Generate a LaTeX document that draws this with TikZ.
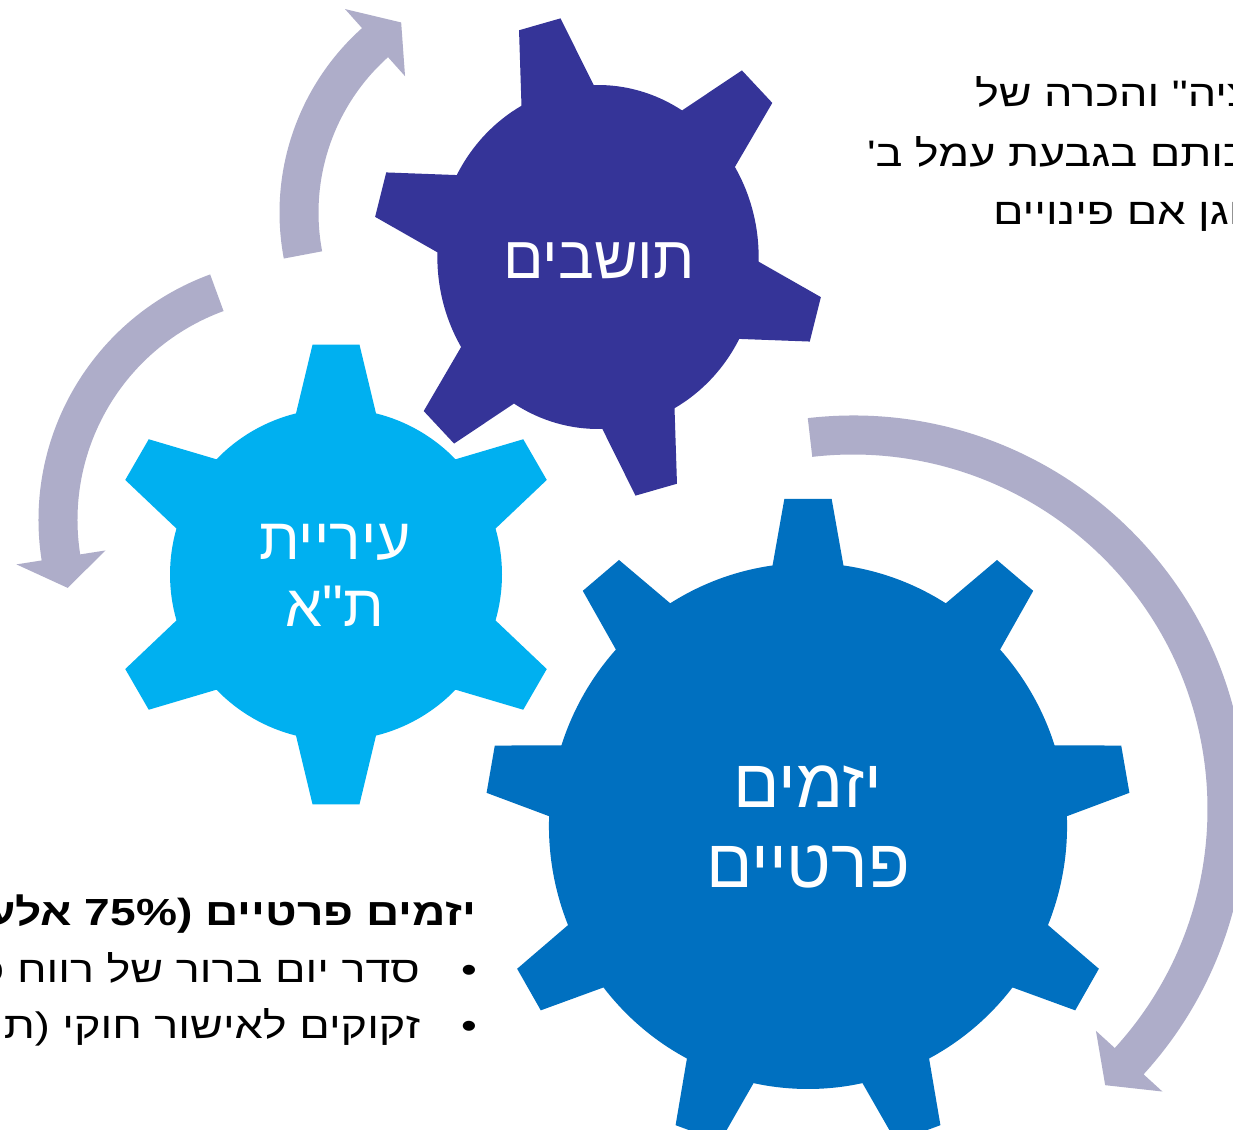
\documentclass[tikz,border=0pt]{standalone}
\usepackage{fontspec}
\setmainfont{Liberation Sans}
\newfontfamily\heb{Liberation Sans}[Script=Hebrew,Ligatures=TeXOff]
\newfontfamily\hebw{Liberation Sans}[Script=Hebrew,Ligatures=TeXOff,FakeStretch=1.22]
\newfontfamily\latw{Liberation Sans}[Ligatures=TeXOff,FakeStretch=1.22]
\TeXXeTstate=1
\definecolor{gdark}{RGB}{53,52,152}
\definecolor{glight}{RGB}{0,176,240}
\definecolor{gbig}{RGB}{0,112,192}
\definecolor{arrowc}{RGB}{174,173,201}
% #1 colour+options, #2 cx, #3 cy, #4 body radius, #5 tip radius, #6 teeth, #7 first tooth angle, #8 base half width, #9 tip half width
\newcommand\mygear[9]{%
  \pgfmathsetmacro\gstep{360/#6}%
  \pgfmathsetmacro\gab{asin(#8/#4)}%
  \pgfmathsetmacro\gat{asin(#9/#5)}%
  \pgfmathsetmacro\gfirst{#7-\gab}%
  \fill[shift={(#2,#3)}, #1] (\gfirst:#4)
    \foreach \k [evaluate=\k as \th using #7+(\k-1)*\gstep] in {1,...,#6} {
      -- ({\th-\gat}:#5) -- ({\th+\gat}:#5) -- ({\th+\gab}:#4)
      arc[start angle={\th+\gab}, end angle={\th+\gstep-\gab}, radius=#4]
    } -- cycle;%
}
% #1 cx, #2 cy, #3 mid radius, #4 tail angle, #5 head base angle, #6 tip angle
\newcommand\myarrow[6]{%
  \fill[arrowc, shift={(#1,#2)}] (#4:{#3+19.5})
    arc[start angle=#4, end angle=#5, radius={#3+19.5}]
    -- (#5:{#3+45}) -- (#6:#3) -- (#5:{#3-45}) -- (#5:{#3-19.5})
    arc[start angle=#5, end angle=#4, radius={#3-19.5}] -- cycle;%
}
\tikzset{
  lbl/.style={inner sep=0pt, outer sep=0pt, text=white},
  txt/.style={inner sep=0pt, outer sep=0pt, text=black}
}
\begin{document}
\begin{tikzpicture}[x=0.02cm, y=0.02cm]
\useasboundingbox (0,0) rectangle (1233,1129);
\clip (0,0) rectangle (1233,1129);
\fill[white] (0,0) rectangle (1233,1129);
% arrows
\myarrow{527}{916.4}{228}{190.7}{131.8}{123.5}
\myarrow{300}{609}{242}{110.1}{188.9}{196.3}
\myarrow{853}{320}{374}{96.6}{-42.4}{-47.6}
% gears
\mygear{gdark, xscale=0.934}{598}{872}{172}{242}{6}{105}{40}{23}
\mygear{glight}{336}{554.5}{166}{231}{6}{90}{40}{23.5}
\mygear{gbig, xscale=0.985}{808}{303}{263}{328}{9}{90}{36}{24}
% gear labels
\node[lbl, font=\heb\fontsize{34}{38}\selectfont, anchor=base] (tosh) at (599,850) {\beginR תושבים\endR};
\node[lbl, font=\heb\fontsize{33.5}{38}\selectfont, anchor=base] (iria) at (335,569) {\beginR עיריית\endR};
\node[lbl, font=\heb\fontsize{33.5}{38}\selectfont, anchor=base] (ta) at (335,502) {\beginR ת"א\endR};
\node[lbl, font=\heb\fontsize{39}{44}\selectfont, anchor=base] (yazam) at (808,321) {\beginR יזמים\endR};
\node[lbl, font=\heb\fontsize{39}{44}\selectfont, anchor=base] (prat) at (808,241) {\beginR פרטיים\endR};
% top right text
\node[txt, font=\hebw\fontsize{21}{24}\selectfont, anchor=base west] (trA) at (975,1022) {\beginR ציה" והכרה של\endR};
\node[txt, font=\hebw\fontsize{21}{24}\selectfont, anchor=base west] (trB) at (867,962) {\beginR כותם בגבעת עמל ב'\endR};
\node[txt, font=\hebw\fontsize{21}{24}\selectfont, anchor=base west] (trC) at (993,904) {\beginR וגן אם פינויים\endR};
% bottom left text
\node[txt, font=\hebw\bfseries\fontsize{21.5}{26}\selectfont, anchor=base east] (blA) at (476,204) {\beginR יזמים פרטיים {\latw\bfseries 75\%)} אלע\endR};
\node[txt, font=\latw\fontsize{21}{24}\selectfont, anchor=base east] (bu1) at (477,147) {•};
\node[txt, font=\hebw\fontsize{21}{24}\selectfont, anchor=base east] (blB) at (420,147) {\beginR סדר יום ברור של רווח כ\endR};
\node[txt, font=\latw\fontsize{21}{24}\selectfont, anchor=base east] (bu2) at (477,91) {•};
\node[txt, font=\hebw\fontsize{21}{24}\selectfont, anchor=base east] (blC) at (420,91) {\beginR זקוקים לאישור חוקי (ת\endR};
\end{tikzpicture}
\end{document}
